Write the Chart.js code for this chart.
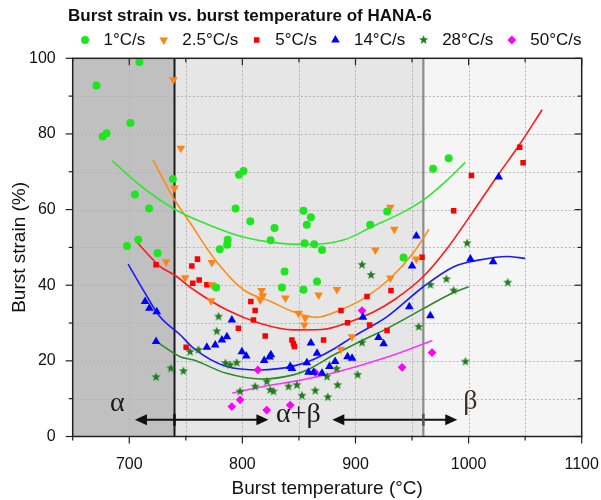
<!DOCTYPE html>
<html><head><meta charset="utf-8">
<script src="https://cdn.jsdelivr.net/npm/chart.js"></script>
<style>html,body{margin:0;padding:0;background:#fff}#wrap{width:601px;height:500px;position:relative}</style>
</head><body><div id="wrap"><canvas id="c" width="601" height="500"></canvas></div>
<script>
// ---------- DATA ----------
const chartTitle = 'Burst strain vs. burst temperature of HANA-6';
const seriesNames = ['1°C/s', '2.5°C/s', '5°C/s', '14°C/s', '28°C/s', '50°C/s'];
const xTickLabels = [700, 800, 900, 1000, 1100];
const yTickLabels = [0, 20, 40, 60, 80, 100];
const phaseBounds = [650, 740, 960, 1100];
const phaseNames = ['α', 'α+β', 'β'];

// 1°C/s
const t1 = [671, 676.5, 680, 701, 709, 705, 717.5, 708, 698, 725, 738.5, 780, 786.5, 787, 794, 797, 801, 807, 776.8, 825, 828.4, 835, 837.3, 854, 857, 860.6, 855, 863.5, 854, 866, 870.4, 913, 928, 942.5, 968.6, 982.4];
const s1 = [92.8, 79.3, 80.2, 82.9, 99, 64, 60.3, 52, 50.4, 48.5, 68.1, 49.5, 50.7, 52, 60.3, 69.2, 70.2, 56.9, 39.4, 51.9, 55.1, 39.4, 43.6, 59.7, 56, 58, 51.1, 50.8, 38.8, 41, 49.3, 56, 59.5, 47.3, 70.8, 73.6];
// 2.5°C/s
const t2 = [739, 745.6, 740, 732.6, 749.4, 773, 773, 772.4, 817, 818, 815.8, 838, 849.7, 855.6, 854.7, 867.4, 883.6, 887, 896.9, 917.5, 930.8, 930.8, 934.3, 953.8];
const s2 = [94.3, 76.2, 65.7, 46.2, 42, 46, 40.1, 35.9, 38.6, 37.2, 36.1, 36.6, 32.6, 31.3, 29.5, 37.4, 38.9, 23.1, 26.4, 49.3, 41.9, 60.6, 54.8, 46.9];
// 5°C/s
const t3 = [723.7, 750.3, 755.3, 760.3, 756.2, 761.8, 768.6, 796.5, 807.5, 811.3, 809.8, 820.2, 843.8, 845.2, 846, 871.8, 887.2, 893, 910.2, 912.5, 927.9, 931.4, 958.8, 986.8, 1002.5, 1045.2, 1048.2];
const s3 = [45.4, 23.6, 45.1, 46.9, 40.5, 41.4, 40.1, 28.6, 35.7, 33.3, 30.8, 26.6, 25.5, 24.5, 23.8, 25.5, 33.3, 30.1, 37, 29.5, 28, 38.6, 47.4, 59.7, 69, 76.5, 72.4];
// 14°C/s
const t4 = [714, 717.8, 724.3, 723.7, 768.6, 776, 781.9, 786.3, 790.7, 799.6, 803.4, 819.3, 824, 825.2, 842.3, 843.8, 857, 858.5, 863, 870.4, 860.6, 866, 877, 882, 893, 897, 906.6, 920.4, 924.9, 947.6, 950, 953.8, 966.2, 1001.6, 1021.7, 1026.6];
const s4 = [35.7, 33.9, 33, 25.1, 23.6, 24.2, 25.5, 26.4, 30.8, 22.4, 21.3, 20.1, 21, 21.6, 18.5, 18, 19.5, 17, 17, 16.7, 24.7, 22, 18.5, 19.8, 21.1, 20.7, 31.5, 26.2, 24.5, 34.3, 45.1, 53, 31.9, 46.9, 46.2, 68.6];
// 28°C/s
const t5 = [723.7, 736.7, 747.9, 753.8, 761.2, 777.4, 778.9, 785, 789.3, 795, 798, 811.3, 821.6, 824.6, 827.5, 840.8, 848.2, 852.7, 864.4, 875.5, 874.8, 883.3, 884.2, 901.9, 905.8, 905.8, 913.8, 955.9, 966.2, 980.4, 986.8, 997.2, 998.7, 1034.6];
const s5 = [15.7, 18, 17.3, 22.4, 22.9, 27.8, 31.7, 19.4, 18.9, 19.5, 11.9, 13.2, 14.5, 12.3, 11.9, 13.2, 13.6, 10.8, 12.1, 10.4, 15.8, 17.9, 13.6, 16.3, 24.8, 45.4, 42.7, 29, 40.1, 41.6, 38.6, 19.8, 51.1, 40.7];
// 50°C/s
const t6 = [790.7, 798, 813.7, 821.5, 842.3, 864.4, 905.8, 941.2, 967.7];
const s6 = [7.9, 9.7, 17.6, 7, 8.3, 16.9, 33.3, 18.3, 22.2];

// fitted trend curves
const f1t = [685, 710, 740, 770, 800, 830, 860, 890, 915, 940, 960, 980, 997];
const f1s = [72.9, 66.3, 60.1, 56, 52.8, 51.2, 50.8, 52, 55.5, 59, 62.5, 67.5, 72.5];
const f2t = [721, 740, 752, 776, 801, 825, 845, 865, 887, 910, 931, 951, 965];
const f2s = [73.1, 62.6, 57.3, 46.7, 38.8, 35.7, 33, 31.5, 33.5, 37, 41.9, 48.5, 54.8];
const f3t = [707, 727, 740, 757, 786, 816, 845, 870, 893, 915, 934, 960, 980, 1002, 1025, 1046, 1065];
const f3s = [51.3, 45, 42.7, 38.8, 33.5, 29.9, 28.2, 28.3, 30.1, 32.8, 36.1, 42.3, 49.3, 58.6, 68.7, 77.6, 86.4];
const f4t = [699, 714, 727, 745, 757, 786, 816, 845, 860, 880, 898, 928, 960, 987, 1010, 1034, 1050];
const f4s = [45.6, 37.9, 31.7, 26.9, 23.3, 18.5, 17.6, 18.6, 20, 23, 26.4, 31.7, 39.6, 44.9, 46.7, 47.6, 47.1];
const f5t = [723, 745, 757, 786, 816, 845, 860, 881, 910, 927, 960, 984, 1000];
const f5s = [25.3, 21.1, 20.2, 16.7, 15.2, 16.3, 18, 21.6, 26, 28.4, 33.8, 37.7, 39.6];
const f6t = [791, 820, 850, 880, 910, 940, 968];
const f6s = [11.5, 13.3, 14.8, 16.8, 19.3, 22.2, 25.4];

// ---------- STYLE ----------
const FONT = '"Liberation Sans", Arial, sans-serif';
const SERIF = '"Liberation Serif", "DejaVu Serif", serif';
const pointColors = ['#1ee61e', '#ff8414', '#ff0000', '#0000ff', '#1e7d1e', '#ff00ff'];
const lineColors = ['#33e633', '#ff8c1a', '#ff1a1a', '#1a1aff', '#2a8a2a', '#ff33ff'];

function drawStar(g, cx, cy, R, color) {
  const r = R * 0.42;
  g.beginPath();
  for (let i = 0; i < 10; i++) {
    const a = -Math.PI / 2 + i * Math.PI / 5;
    const rr = i % 2 === 0 ? R : r;
    const px = cx + rr * Math.cos(a), py = cy + rr * Math.sin(a);
    if (i === 0) g.moveTo(px, py); else g.lineTo(px, py);
  }
  g.closePath();
  g.fillStyle = color; g.fill();
}
function makeStar(color, R) {
  const c = document.createElement('canvas');
  const sz = Math.ceil(R * 2 + 2);
  c.width = sz; c.height = sz;
  drawStar(c.getContext('2d'), sz / 2, sz / 2, R, color);
  return c;
}
const starImg = makeStar(pointColors[4], 4.8);

const markers = [
  { style: 'circle', r: 4, rot: 0 },
  { style: 'triangle', r: 5, rot: 180 },
  { style: 'rect', r: 3.9, rot: 0 },
  { style: 'triangle', r: 5, rot: 0 },
  { style: starImg, r: 5, rot: 0 },
  { style: 'rectRot', r: 4.4, rot: 0 }
];

const T = [t1, t2, t3, t4, t5, t6], S = [s1, s2, s3, s4, s5, s6];
const FT = [f1t, f2t, f3t, f4t, f5t, f6t], FS = [f1s, f2s, f3s, f4s, f5s, f6s];

const datasets = [];
for (let i = 0; i < 6; i++) {
  datasets.push({
    label: seriesNames[i] + ' fit',
    data: FT[i].map((x, k) => ({ x: x, y: FS[i][k] })),
    showLine: true, borderColor: lineColors[i], borderWidth: 1.6,
    pointRadius: 0, cubicInterpolationMode: 'monotone', fill: false, order: 2
  });
}
for (let i = 0; i < 6; i++) {
  datasets.push({
    label: seriesNames[i],
    data: T[i].map((x, k) => ({ x: x, y: S[i][k] })),
    showLine: false,
    pointStyle: markers[i].style, pointRadius: markers[i].r, pointRotation: markers[i].rot,
    backgroundColor: pointColors[i], borderColor: pointColors[i], borderWidth: 0, order: 1
  });
}

function drawMarker(g, i, x, y) {
  const m = markers[i];
  const r = m.r;
  if (i === 4) { drawStar(g, x, y, 4.8, pointColors[4]); return; }
  g.save();
  g.fillStyle = pointColors[i];
  g.beginPath();
  if (i === 0) { g.arc(x, y, r, 0, Math.PI * 2); }
  else if (i === 1) { const w = r * Math.sqrt(3) / 2; g.moveTo(x - w, y - r / 2); g.lineTo(x + w, y - r / 2); g.lineTo(x, y + r); g.closePath(); }
  else if (i === 2) { const s = r * Math.SQRT1_2; g.rect(x - s, y - s, 2 * s, 2 * s); }
  else if (i === 3) { const w = r * Math.sqrt(3) / 2; g.moveTo(x - w, y + r / 2); g.lineTo(x + w, y + r / 2); g.lineTo(x, y - r); g.closePath(); }
  else { g.moveTo(x, y - r); g.lineTo(x + r, y); g.lineTo(x, y + r); g.lineTo(x - r, y); g.closePath(); }
  g.fill();
  g.restore();
}

const decor = {
  id: 'decor',
  beforeDraw(chart) {
    const g = chart.ctx, a = chart.chartArea, xs = chart.scales.x;
    g.save();
    g.fillStyle = '#ffffff'; g.fillRect(0, 0, chart.width, chart.height);
    const fills = ['#c0c0c0', '#e6e6e6', '#f5f5f5'];
    for (let i = 0; i < 3; i++) {
      const x0 = xs.getPixelForValue(phaseBounds[i]), x1 = xs.getPixelForValue(phaseBounds[i + 1]);
      g.fillStyle = fills[i]; g.fillRect(x0, a.top, x1 - x0, a.bottom - a.top);
    }
    g.restore();
  },
  beforeDatasetsDraw(chart) {
    const g = chart.ctx, a = chart.chartArea, xs = chart.scales.x, ys = chart.scales.y;
    g.save();
    g.strokeStyle = '#b4b4b4'; g.lineWidth = 1; g.setLineDash([2, 2]);
    for (let v = 700; v < 1100; v += 50) {
      const px = Math.round(xs.getPixelForValue(v)) + 0.5;
      g.beginPath(); g.moveTo(px, a.top); g.lineTo(px, a.bottom); g.stroke();
    }
    for (let v = 10; v < 100; v += 10) {
      const py = Math.round(ys.getPixelForValue(v)) + 0.5;
      g.beginPath(); g.moveTo(a.left, py); g.lineTo(a.right, py); g.stroke();
    }
    g.setLineDash([]);
    let px = xs.getPixelForValue(phaseBounds[1]);
    g.strokeStyle = '#1a1a1a'; g.lineWidth = 2;
    g.beginPath(); g.moveTo(px, a.top); g.lineTo(px, a.bottom); g.stroke();
    px = xs.getPixelForValue(phaseBounds[2]);
    g.strokeStyle = '#8c8c8c'; g.lineWidth = 2.2;
    g.beginPath(); g.moveTo(px, a.top); g.lineTo(px, a.bottom); g.stroke();
    g.restore();
  },
  afterDatasetsDraw(chart) {
    const g = chart.ctx, a = chart.chartArea, xs = chart.scales.x, ys = chart.scales.y;
    g.save();
    g.strokeStyle = '#222'; g.lineWidth = 1.5;
    g.strokeRect(a.left, a.top, a.right - a.left, a.bottom - a.top);
    g.lineWidth = 1.2; g.strokeStyle = '#222';
    for (let v = 650; v <= 1100; v += 50) {
      const px = xs.getPixelForValue(v), L = (v % 100 === 0) ? 7 : 4;
      g.beginPath(); g.moveTo(px, a.bottom); g.lineTo(px, a.bottom + L); g.stroke();
      g.beginPath(); g.moveTo(px, a.top); g.lineTo(px, a.top + L); g.stroke();
    }
    for (let v = 0; v <= 100; v += 10) {
      const py = ys.getPixelForValue(v), L = (v % 20 === 0) ? 7 : 4;
      g.beginPath(); g.moveTo(a.left, py); g.lineTo(a.left - L, py); g.stroke();
      g.beginPath(); g.moveTo(a.right, py); g.lineTo(a.right - L, py); g.stroke();
    }
    const ay = ys.getPixelForValue(4.4);
    const arrows = [[705, 823, phaseBounds[1], '#111'], [879.5, 990, phaseBounds[2], '#555']];
    arrows.forEach(([v0, v1, vm, tc]) => {
      const x0 = xs.getPixelForValue(v0), x1 = xs.getPixelForValue(v1), xm = xs.getPixelForValue(vm);
      g.strokeStyle = '#111'; g.fillStyle = '#111'; g.lineWidth = 2;
      g.beginPath(); g.moveTo(x0 + 8, ay); g.lineTo(x1 - 8, ay); g.stroke();
      g.beginPath(); g.moveTo(x0, ay); g.lineTo(x0 + 12, ay - 5.5); g.lineTo(x0 + 12, ay + 5.5); g.closePath(); g.fill();
      g.beginPath(); g.moveTo(x1, ay); g.lineTo(x1 - 12, ay - 5.5); g.lineTo(x1 - 12, ay + 5.5); g.closePath(); g.fill();
      g.strokeStyle = tc; g.lineWidth = 2.5;
      g.beginPath(); g.moveTo(xm, ay - 6); g.lineTo(xm, ay + 6); g.stroke();
    });
    g.font = '28px ' + SERIF; g.textAlign = 'center'; g.textBaseline = 'middle';
    g.fillStyle = '#1a1a1a';
    g.fillText(phaseNames[0], xs.getPixelForValue(689.5), ys.getPixelForValue(8.8));
    g.fillText(phaseNames[1], xs.getPixelForValue(849.6), ys.getPixelForValue(5.7));
    g.fillStyle = '#3a3026';
    g.fillText(phaseNames[2], xs.getPixelForValue(1001.6), ys.getPixelForValue(9.2));
    g.restore();
  },
  afterDraw(chart) {
    const g = chart.ctx;
    g.save();
    g.fillStyle = '#111'; g.textBaseline = 'middle'; g.textAlign = 'left';
    g.font = 'bold 17px ' + FONT;
    g.fillText(chartTitle, 68, 16);
    g.font = '17px ' + FONT;
    let x = 85;
    for (let i = 0; i < 6; i++) {
      drawMarker(g, i, x, 40);
      const tx = x + 18.5;
      g.fillStyle = '#111';
      g.fillText(seriesNames[i], tx, 40);
      x = tx + g.measureText(seriesNames[i]).width + 18.5;
    }
    g.restore();
  }
};

new Chart(document.getElementById('c'), {
  type: 'scatter',
  data: { datasets: datasets },
  options: {
    responsive: false, animation: false, devicePixelRatio: 1,
    layout: { padding: { left: 0, right: 19.3, top: 58.3, bottom: 0 } },
    plugins: { legend: { display: false }, tooltip: { enabled: false }, title: { display: false } },
    scales: {
      x: {
        type: 'linear', min: 650, max: 1100,
        ticks: { stepSize: 50, autoSkip: false, maxRotation: 0, padding: 10, color: '#111',
          font: { family: FONT, size: 16 },
          callback: v => xTickLabels.includes(v) ? String(v) : '' },
        grid: { display: false }, border: { display: false },
        title: { display: true, text: 'Burst temperature (°C)', color: '#111',
          font: { family: FONT, size: 19 }, padding: { top: 0, bottom: 0 } },
        afterFit: s => { s.height = 63.5; s.paddingLeft = 0; s.paddingRight = 0; }
      },
      y: {
        type: 'linear', min: 0, max: 100,
        ticks: { stepSize: 10, autoSkip: false, padding: 9, color: '#111',
          font: { family: FONT, size: 16 },
          callback: v => yTickLabels.includes(v) ? String(v) : '' },
        grid: { display: false }, border: { display: false },
        title: { display: true, text: 'Burst strain (%)', color: '#111',
          font: { family: FONT, size: 19 }, padding: { top: 8, bottom: 0 } },
        afterFit: s => { s.width = 72.7; s.paddingTop = 0; s.paddingBottom = 0; }
      }
    }
  },
  plugins: [decor]
});
</script></body></html>
